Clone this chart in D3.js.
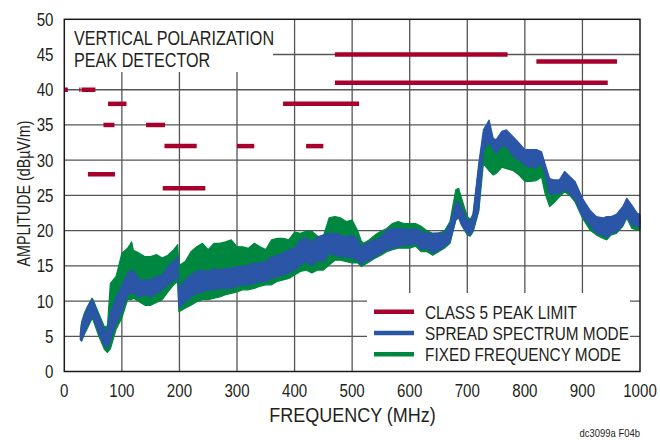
<!DOCTYPE html>
<html><head><meta charset="utf-8">
<script src="https://cdn.jsdelivr.net/npm/d3@7"></script>
<style>
body{margin:0;background:#fff}
svg{display:block}
text{font-family:"Liberation Sans Narrow","Arial Narrow","Liberation Sans",sans-serif;fill:#231f20}
</style>
</head><body>
<svg id="c" width="660" height="440"></svg>
<script>
// ---- data ----
const freqs = [28,30,35,40,48,50,60,70,75,80,
  90,100,110,117,120,130,140,150,160,170,
  180,190,197,199,210,220,230,240,250,260,
  270,280,290,300,310,320,330,340,350,360,
  370,380,390,400,410,420,430,440,450,460,
  470,480,490,500,510,516,520,530,540,550,
  560,570,580,590,600,610,620,630,640,650,
  660,670,680,685,690,700,705,710,720,728,
  738,745,750,760,768,780,790,800,810,820,
  829,835,843,850,860,869,878,887,900,913,
  924,936,942,950,959,970,977,986,995,1000];
const spreadLo = [4.5,4.4,5.5,6.4,7.8,7.6,5.4,3.6,3.3,4.4,
  6.8,8.5,10.9,11.2,11.1,10.6,10.9,10.6,11.1,11.6,
  12.3,13.0,13.5,9.0,9.9,10.6,11.1,11.3,11.6,11.6,
  11.8,11.8,11.8,12.1,12.3,12.3,12.5,12.8,12.8,13.2,
  13.5,13.7,14.0,14.4,15.1,15.6,15.0,15.8,15.6,16.8,
  16.5,16.3,16.3,16.1,15.8,15.1,15.6,15.8,16.3,16.8,
  17.3,17.5,17.7,18.0,17.9,18.2,17.3,17.5,16.8,17.2,
  17.7,18.4,21.5,22.0,20.8,19.6,19.4,20.0,23.0,31.5,
  32.5,31.5,31.0,32.0,32.0,30.5,30.0,29.3,29.0,29.0,
  29.5,28.0,25.1,25.3,25.3,25.8,25.3,24.4,22.0,20.8,
  19.6,19.4,19.0,19.6,19.8,20.8,22.0,20.8,20.6,20.4];
const spreadHi = [5.5,6.8,8.0,9.0,10.2,10.0,7.8,5.8,6.0,8.3,
  10.5,12.2,13.9,14.3,14.4,13.0,13.0,13.0,13.5,13.7,
  14.9,15.6,16.3,11.5,13.0,13.7,14.2,14.4,14.2,14.6,
  14.4,14.6,14.6,14.9,14.9,15.1,15.4,15.4,15.6,16.3,
  16.5,16.8,17.3,17.5,18.7,18.9,18.4,19.1,19.4,19.6,
  19.6,19.4,19.1,19.4,18.7,17.5,18.0,18.4,18.7,19.1,
  20.1,20.3,20.3,20.3,20.1,20.3,19.9,19.6,19.6,19.6,
  19.6,21.0,23.9,24.1,23.2,21.5,21.3,22.4,29.6,34.3,
  35.7,33.1,32.9,34.1,34.3,33.3,32.4,31.5,31.5,31.5,
  31.2,29.5,27.4,27.2,27.2,28.4,27.7,27.0,24.6,22.9,
  22.0,21.8,22.0,22.0,22.3,23.4,24.6,23.6,22.5,22.3];
const fixedLo = [4.5,4.3,5.3,6.1,7.5,7.3,5.0,3.1,2.7,3.2,
  6.0,7.6,10.2,10.2,10.4,9.9,9.4,9.4,9.8,10.2,
  11.3,12.3,12.8,8.5,9.0,9.4,9.9,10.2,10.2,10.4,
  10.6,10.9,11.1,11.3,11.6,11.6,11.8,12.1,12.3,12.3,
  12.8,13.0,13.2,13.7,14.2,14.4,14.0,14.4,14.4,15.1,
  15.8,15.8,15.6,15.4,15.4,14.9,15.1,15.6,16.1,16.5,
  17.0,17.3,17.5,17.5,17.5,17.8,17.0,17.0,16.5,17.0,
  17.5,18.2,21.5,21.8,20.8,19.4,19.2,19.8,22.8,29.5,
  28.5,27.9,28.1,29.0,28.8,28.5,27.9,27.0,27.0,27.1,
  27.6,25.3,23.4,23.9,24.8,25.5,25.0,24.1,21.8,20.1,
  19.4,18.9,18.7,19.4,19.6,20.6,21.8,20.3,20.1,20.1];
const fixedHi = [5.5,7.0,8.3,9.2,10.4,10.2,8.2,6.3,6.5,12.5,
  13.5,16.8,17.5,18.4,17.2,16.8,16.3,16.3,16.6,16.1,
  16.5,17.3,18.0,15.0,15.6,17.0,17.7,18.2,17.3,18.2,
  18.2,18.4,18.7,17.7,17.7,17.5,18.2,17.7,17.3,18.7,
  18.9,18.9,18.7,19.8,19.6,19.9,19.9,19.2,19.2,21.8,
  22.0,21.8,21.3,21.5,19.9,18.5,18.2,18.7,19.4,19.9,
  20.3,21.0,21.3,21.0,21.0,21.0,20.6,20.0,19.6,19.7,
  19.9,21.3,25.8,26.0,24.6,22.0,21.6,22.2,29.0,33.5,
  34.5,32.5,32.5,33.5,33.5,32.5,31.5,30.5,30.5,30.5,
  30.2,28.8,26.6,26.4,26.5,27.5,27.0,26.3,24.0,22.3,
  21.4,21.2,21.3,21.4,21.6,22.8,23.8,23.0,22.0,21.8];
// Class 5 peak limit segments
const limitStart = [0.15,26,30,41,68,76,142,171,174,300,380,420,470,470,820];
const limitEnd   = [6.2,28,54,88,87,108,175,245,230,330,512,450,770,944,960];
const limitLevel = [40,40,40,28,35,38,35,26,32,32,38,32,45,41,44];
const xTicks = [0,100,200,300,400,500,600,700,800,900,1000];
const yTicks = [0,5,10,15,20,25,30,35,40,45,50];
const legendLabels = ["CLASS 5 PEAK LIMIT","SPREAD SPECTRUM MODE","FIXED FREQUENCY MODE"];
const titleLines = ["VERTICAL POLARIZATION","PEAK DETECTOR"];

// ---- drawing ----
const C = {red:"#a8002c", blue:"#2b55a7", green:"#00873f", grid:"#555"};
const svg = d3.select("#c");
svg.append("rect").attr("width",660).attr("height",440).attr("fill","#fff");
const x = d3.scaleLinear().domain([0,1000]).range([64.3,640]);
const y = d3.scaleLinear().domain([0,50]).range([371.5,19.3]);

// condensed text helper
function txt(parent, px, py, s, size, k, anchor, rot, dy){
  return parent.append("text")
    .attr("transform",`translate(${px},${py}) rotate(${rot||0}) scale(${k},1)`)
    .attr("font-size",size).attr("text-anchor",anchor||"start")
    .attr("dy",dy||0).text(s);
}

const g = svg.append("g");
g.selectAll(".vg").data(xTicks.slice(1,-1)).join("line")
  .attr("x1",d=>x(d)).attr("x2",d=>x(d)).attr("y1",y(0)).attr("y2",y(50))
  .attr("stroke",C.grid).attr("stroke-width",1.3);
g.selectAll(".hg").data(yTicks.slice(1,-1)).join("line")
  .attr("x1",x(0)).attr("x2",x(1000)).attr("y1",d=>y(d)).attr("y2",d=>y(d))
  .attr("stroke",C.grid).attr("stroke-width",1.3);

// title box and legend box hide grid
svg.append("rect").attr("x",x(0)).attr("y",y(50)).attr("width",273-x(0)).attr("height",72-y(50)).attr("fill","#fff");
svg.append("rect").attr("x",367).attr("y",293).attr("width",630-367).attr("height",y(0)-293).attr("fill","#fff");

const idx = d3.range(freqs.length);
function band(lo, hi, col){
  const a = d3.area().x(i=>x(freqs[i])).y0(i=>y(lo[i])).y1(i=>y(hi[i]));
  svg.append("path").attr("d",a(idx)).attr("fill",col).attr("stroke",col).attr("stroke-width",1.2).attr("stroke-linejoin","round");
}
band(fixedLo, fixedHi, C.green);
band(spreadLo, spreadHi, C.blue);

svg.selectAll(".lim").data(limitLevel.map((v,i)=>i)).join("line")
  .attr("x1",i=>x(limitStart[i])).attr("x2",i=>x(limitEnd[i]))
  .attr("y1",i=>y(limitLevel[i])).attr("y2",i=>y(limitLevel[i]))
  .attr("stroke",C.red).attr("stroke-width",4.5);

// frame
svg.append("rect").attr("x",x(0)).attr("y",y(50)).attr("width",x(1000)-x(0)).attr("height",y(0)-y(50))
  .attr("fill","none").attr("stroke","#1a1a1a").attr("stroke-width",1.5);

// tick labels
yTicks.forEach(d=>txt(svg, 53.5, y(d), d, 18, 0.84, "end", 0, "0.36em"));
xTicks.forEach(d=>txt(svg, x(d), 397, d, 18, 0.84, "middle"));
txt(svg, 352.5, 421.7, "FREQUENCY (MHz)", 20, 0.9, "middle");
txt(svg, 29.5, 193.5, "AMPLITUDE (dBµV/m)", 18.5, 0.77, "middle", -90);
txt(svg, 640, 437, "dc3099a F04b", 11, 0.86, "end");

// title
titleLines.forEach((t,i)=>txt(svg, 74, 45 + i*21.7, t, 19.5, 0.83, "start"));

// legend
const legCols = [C.red, C.blue, C.green];
legendLabels.forEach((t,i)=>{
  const yy = 311.7 + i*21.3;
  svg.append("line").attr("x1",374).attr("x2",414).attr("y1",yy).attr("y2",yy)
    .attr("stroke",legCols[i]).attr("stroke-width",4.5);
  txt(svg, 425, yy, t, 18.5, 0.83, "start", 0, "0.38em");
});
</script>
</body></html>
